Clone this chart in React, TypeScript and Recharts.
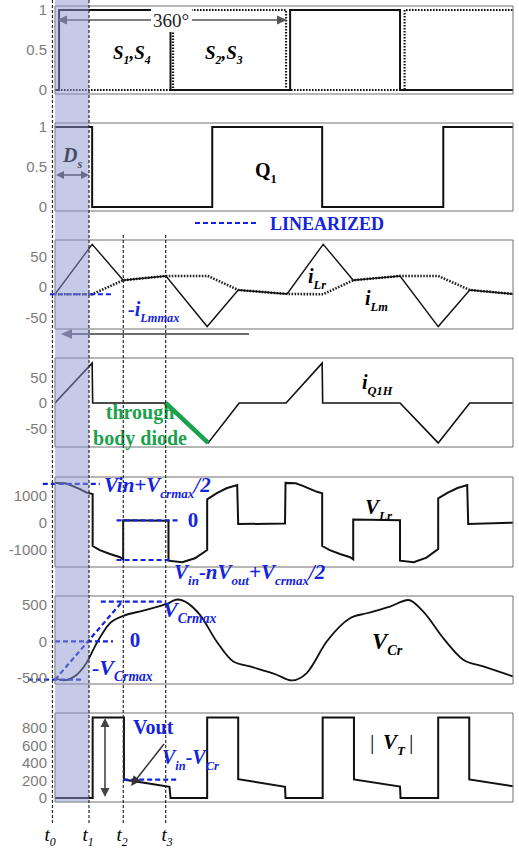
import React from 'react';
import { LineChart, Line, XAxis, YAxis, ReferenceLine, ReferenceArea } from 'recharts';

// ---------- data (x in time units 0..9) ----------
const X_TICKS = [0, 1, 2, 3, 4, 5, 6, 7, 8, 9];
const X_DOMAIN: [number, number] = [0, 9];
const T0 = -0.05, T1 = 0.668, T2 = 1.342, T3 = 2.175;

const s14: [number, number][] = [[0, 0], [0.08, 0], [0.08, 1], [2.27, 1], [2.27, 0], [4.62, 0], [4.62, 1], [6.78, 1], [6.78, 0], [9, 0]];
const s23: [number, number][] = [[0, 0], [2.32, 0], [2.32, 1], [4.54, 1], [4.54, 0], [6.87, 0], [6.87, 1], [9, 1]];
const q1: [number, number][] = [[0, 1], [0.73, 1], [0.73, 0], [3.09, 0], [3.09, 1], [5.25, 1], [5.25, 0], [7.63, 0], [7.63, 1], [9, 1]];
const iLr: [number, number][] = [[0, -12], [0.73, 70], [1.34, 11], [2.18, 18], [2.99, -65], [3.6, -5], [4.56, -11.5], [5.27, 70], [5.86, 11], [6.78, 18], [7.53, -65], [8.15, -5], [9, -11.5]];
const iLm: [number, number][] = [[0, -12], [0.73, -12], [1.34, 11], [2.18, 18], [3.0, 18], [3.6, -5], [4.56, -11.5], [5.27, -12], [5.86, 11], [6.78, 18], [7.53, 18], [8.15, -5], [9, -11.5]];
const iQ1H: [number, number][] = [[0, 0], [0.73, 78], [0.74, 0], [2.175, 0], [3.01, -78], [3.62, 0], [4.54, 0], [5.25, 78], [5.26, 0], [6.78, 0], [7.53, -78], [8.15, 0], [9, 0]];
const diodeSeg: [number, number][] = [[2.175, 0], [3.01, -78]];
const vLr: [number, number][] = [
  [0, 1480], [0.2, 1465], [0.34, 1370], [0.49, 1250], [0.62, 1120], [0.74, 1070], [0.74, -850], [0.88, -1000], [1.08, -1145], [1.28, -1265], [1.34, -1340],
  [1.34, 100], [2.23, 80], [2.23, -1390], [2.5, -1450], [2.75, -1300], [2.99, -1000], [2.99, 870], [3.18, 1100], [3.37, 1280], [3.58, 1400], [3.6, -40], [4.52, -20],
  [4.53, 1480], [4.73, 1465], [4.87, 1370], [5.02, 1250], [5.15, 1150], [5.25, 1100], [5.25, -850], [5.4, -1000], [5.6, -1145], [5.8, -1265], [5.86, -1340],
  [5.86, 130], [6.78, 100], [6.78, -1390], [7.05, -1450], [7.3, -1280], [7.53, -960], [7.53, 910], [7.72, 1120], [7.91, 1290], [8.1, 1400], [8.12, -40], [9, 10],
];
const vCr: [number, number][] = [
  [0, -504], [0.163, -537], [0.426, -459], [0.623, -290], [0.819, -25], [1.081, 249], [1.342, 349], [1.735, 422], [2.195, 514], [2.407, 575],
  [2.849, 363], [3.177, -3], [3.504, -277], [3.832, -345], [4.356, -459], [4.651, -537], [4.946, -436], [5.339, -3], [5.797, 318], [6.125, 386],
  [6.583, 477], [6.942, 568], [7.237, 408], [7.63, 44], [8.023, -253], [8.416, -345], [9, -482],
];
const vT: [number, number][] = [
  [0, 0], [0.74, 0], [0.74, 920], [1.355, 920], [1.355, 210], [2.25, 128], [2.27, 0], [2.99, 0], [2.99, 920], [3.6, 920], [3.6, 215], [4.52, 128], [4.53, 0],
  [5.26, 0], [5.26, 920], [5.875, 920], [5.875, 212], [6.78, 130], [6.79, 0], [7.53, 0], [7.53, 920], [8.14, 920], [8.14, 212], [9, 133],
];

const xy = (a: [number, number][]) => a.map(([x, y]) => ({ x, y }));

// ---------- layout / style ----------
const W = 519, H = 848, PL = 55, PR = 513, M = 14;
const FRAME = '#707070';
const BLUE = '#1424dc';
const GREEN = '#1aa24c';
const SERIF = '"Liberation Serif", "Times New Roman", serif';
const SANS = '"Liberation Sans", Arial, sans-serif';

type PanelProps = { top: number; bottom: number; domain: [number, number]; ticks: number[]; children?: React.ReactNode };

function Panel({ top, bottom, domain, ticks, children }: PanelProps) {
  return (
    <div style={{ position: 'absolute', left: 0, top: top - M }}>
      <LineChart width={W} height={bottom - top + 2 * M} margin={{ top: M, bottom: M, left: 0, right: W - PR }}>
        <XAxis type="number" dataKey="x" domain={X_DOMAIN} ticks={X_TICKS} interval={0} allowDataOverflow mirror tick={false} tickSize={4}
          axisLine={{ stroke: FRAME }} tickLine={{ stroke: FRAME }} />
        <XAxis xAxisId="t" orientation="top" type="number" dataKey="x" domain={X_DOMAIN} ticks={X_TICKS} interval={0} allowDataOverflow mirror tick={false} tickSize={4}
          axisLine={{ stroke: FRAME }} tickLine={{ stroke: FRAME }} />
        <YAxis type="number" domain={domain} ticks={ticks} interval={0} allowDataOverflow width={PL} tickLine={false} tickMargin={2}
          axisLine={{ stroke: FRAME }} tick={{ fill: '#7c7c7c', fontSize: 15, fontFamily: SANS }} />
        <YAxis yAxisId="lm" type="number" domain={domain} ticks={ticks} interval={0} allowDataOverflow mirror tick={false} tickSize={4}
          axisLine={false} tickLine={{ stroke: FRAME }} />
        <YAxis yAxisId="r" orientation="right" type="number" domain={domain} ticks={ticks} interval={0} allowDataOverflow mirror tick={false} tickSize={4}
          axisLine={{ stroke: FRAME }} tickLine={{ stroke: FRAME }} />
        {children}
      </LineChart>
    </div>
  );
}

type Part = [string, 'n' | 's'];
function Rich({ x, y, parts, size, fill = '#000', bold = true, italic = true, anchor = 'start', family = SERIF }:
  { x: number; y: number; parts: Part[]; size: number; fill?: string; bold?: boolean; italic?: boolean; anchor?: string; family?: string }) {
  let prev = 'n';
  const els = parts.map(([t, k], i) => {
    let dy = 0;
    if (k === 's' && prev === 'n') dy = size * 0.28;
    if (k === 'n' && prev === 's') dy = -size * 0.28;
    prev = k;
    return <tspan key={i} dy={dy} fontSize={k === 's' ? size * 0.62 : size}>{t}</tspan>;
  });
  return (
    <text x={x} y={y} fill={fill} fontFamily={family} fontWeight={bold ? 'bold' : 'normal'} fontStyle={italic ? 'italic' : 'normal'}
      textAnchor={anchor as any} fontSize={size}>{els}</text>
  );
}

function Arrow({ x1, y1, x2, y2, color, w = 1.5, head = 9, hw = 4, both = false }:
  { x1: number; y1: number; x2: number; y2: number; color: string; w?: number; head?: number; hw?: number; both?: boolean }) {
  const dx = x2 - x1, dy = y2 - y1, L = Math.hypot(dx, dy), ux = dx / L, uy = dy / L, px = -uy, py = ux;
  const tri = (ex: number, ey: number, sx: number, sy: number) => {
    const bx = ex - sx * head, by = ey - sy * head;
    return `${ex},${ey} ${bx + px * hw},${by + py * hw} ${bx - px * hw},${by - py * hw}`;
  };
  return (
    <g>
      <line x1={both ? x1 + ux * head * 0.8 : x1} y1={both ? y1 + uy * head * 0.8 : y1} x2={x2 - ux * head * 0.8} y2={y2 - uy * head * 0.8} stroke={color} strokeWidth={w} />
      <polygon points={tri(x2, y2, ux, uy)} fill={color} />
      {both && <polygon points={tri(x1, y1, -ux, -uy)} fill={color} />}
    </g>
  );
}

const seg = (x1: number, y1: number, x2: number, y2: number) => [{ x: x1, y: y1 }, { x: x2, y: y2 }];
const blueDash = { stroke: BLUE, strokeWidth: 2.2, strokeDasharray: '5 3', ifOverflow: 'visible' as const };
const tDash = { stroke: '#2a2a2a', strokeWidth: 1.2, strokeDasharray: '3 2', ifOverflow: 'visible' as const };

export default function App() {
  return (
    <div style={{ position: 'absolute', left: 0, top: 0, width: W, height: H, background: '#fff', overflow: 'hidden' }}>
      {/* Panel 1: S1,S4 / S2,S3 */}
      <Panel top={6} bottom={94} domain={[-0.05, 1.05]} ticks={[0, 0.5, 1]}>
        <Line data={xy(s23)} dataKey="y" type="linear" stroke="#111" strokeWidth={2.2} strokeDasharray="1.6 1.4" dot={false} isAnimationActive={false} />
        <Line data={xy(s14)} dataKey="y" type="linear" stroke="#111" strokeWidth={2} dot={false} isAnimationActive={false} />
      </Panel>
      {/* Panel 2: Q1 */}
      <Panel top={123} bottom={211} domain={[-0.05, 1.05]} ticks={[0, 0.5, 1]}>
        <Line data={xy(q1)} dataKey="y" type="linear" stroke="#111" strokeWidth={2} dot={false} isAnimationActive={false} />
      </Panel>
      {/* Panel 3: iLr, iLm */}
      <Panel top={240} bottom={329} domain={[-69, 77]} ticks={[-50, 0, 50]}>
        <Line data={xy(iLm)} dataKey="y" type="linear" stroke="#222" strokeWidth={2.6} strokeDasharray="1.6 1.4" dot={false} isAnimationActive={false} />
        <Line data={xy(iLr)} dataKey="y" type="linear" stroke="#111" strokeWidth={1.4} dot={false} isAnimationActive={false} />
        <ReferenceLine segment={seg(-0.1, -12, 1.14, -12)} {...blueDash} />
      </Panel>
      {/* Panel 4: iQ1H */}
      <Panel top={358} bottom={447} domain={[-86, 88]} ticks={[-50, 0, 50]}>
        <Line data={xy(iQ1H)} dataKey="y" type="linear" stroke="#111" strokeWidth={1.6} dot={false} isAnimationActive={false} />
        <Line data={xy(diodeSeg)} dataKey="y" type="linear" stroke={GREEN} strokeWidth={4.5} dot={false} isAnimationActive={false} />
      </Panel>
      {/* Panel 5: VLr */}
      <Panel top={477} bottom={567} domain={[-1624, 1697]} ticks={[-1000, 0, 1000]}>
        <Line data={xy(vLr)} dataKey="y" type="linear" stroke="#111" strokeWidth={2} dot={false} isAnimationActive={false} />
        <ReferenceLine segment={seg(-0.24, 1440, 0.88, 1440)} {...blueDash} />
        <ReferenceLine segment={seg(1.21, 100, 2.45, 100)} {...blueDash} />
        <ReferenceLine segment={seg(1.21, -1365, 2.27, -1365)} {...blueDash} />
      </Panel>
      {/* Panel 6: VCr */}
      <Panel top={596} bottom={684} domain={[-586, 623]} ticks={[-500, 0, 500]}>
        <Line data={xy(vCr)} dataKey="y" type="monotone" stroke="#111" strokeWidth={1.8} dot={false} isAnimationActive={false} />
        <ReferenceLine segment={seg(-0.53, -527, 0.55, -527)} {...blueDash} />
        <ReferenceLine segment={seg(0, 0, 1.14, 0)} {...blueDash} />
        <ReferenceLine segment={seg(0, -527, 1.32, 545)} {...blueDash} />
        <ReferenceLine segment={seg(0.9, 545, 2.18, 545)} {...blueDash} />
      </Panel>
      {/* Panel 7: |VT| */}
      <Panel top={713} bottom={802} domain={[-46, 971]} ticks={[0, 200, 400, 600, 800]}>
        <Line data={xy(vT)} dataKey="y" type="linear" stroke="#111" strokeWidth={2} dot={false} isAnimationActive={false} />
        <ReferenceLine segment={seg(1.34, 210, 2.43, 210)} {...blueDash} />
      </Panel>

      {/* overlay: shading, time markers, annotations */}
      <div style={{ position: 'absolute', left: 0, top: 0 }}>
        <LineChart width={W} height={H} margin={{ top: 0, bottom: 0, left: PL, right: W - PR }}>
          <XAxis type="number" dataKey="x" domain={X_DOMAIN} hide allowDataOverflow />
          <YAxis type="number" domain={[0, H]} reversed hide allowDataOverflow />
          <ReferenceArea x1={0} x2={T1} y1={0} y2={802} fill="#8c96cd" fillOpacity={0.5} stroke="none" ifOverflow="visible" />
          <ReferenceLine segment={seg(T0, 0, T0, 823)} {...tDash} />
          <ReferenceLine segment={seg(T1, 0, T1, 823)} {...tDash} />
          <ReferenceLine segment={seg(T2, 235, T2, 823)} {...tDash} />
          <ReferenceLine segment={seg(T3, 235, T3, 823)} {...tDash} />

          {/* panel 1 */}
          <Arrow x1={57} y1={20} x2={287} y2={20} color="#555" both w={1.5} head={10} hw={4.5} />
          <rect x={151} y={8} width={41} height={24} fill="#fff" />
          <text x={171} y={27} textAnchor="middle" fontFamily={SERIF} fontSize={19} fill="#222">360°</text>
          <Rich x={113} y={59} size={19} parts={[['S', 'n'], ['1', 's'], [',', 'n'], ['S', 'n'], ['4', 's']]} />
          <Rich x={205} y={59} size={19} parts={[['S', 'n'], ['2', 's'], [',', 'n'], ['S', 'n'], ['3', 's']]} />

          {/* panel 2 */}
          <Rich x={63} y={162} size={20} parts={[['D', 'n'], ['s', 's']]} />
          <Arrow x1={56} y1={175} x2={89} y2={175} color="#444" both w={1.6} head={8} hw={4} />
          <Rich x={255} y={177} size={20} italic={false} parts={[['Q', 'n'], ['1', 's']]} />
          <line x1={195} y1={223} x2={256} y2={223} stroke={BLUE} strokeWidth={2.2} strokeDasharray="5 3" />
          <text x={270} y={230} fontFamily={SERIF} fontWeight="bold" fontSize={18} fill={BLUE}>LINEARIZED</text>

          {/* panel 3 */}
          <Rich x={128} y={316} size={20} fill={BLUE} parts={[['-i', 'n'], ['Lmmax', 's']]} />
          <Rich x={308} y={283} size={20} parts={[['i', 'n'], ['Lr', 's']]} />
          <Rich x={365} y={305} size={20} parts={[['i', 'n'], ['Lm', 's']]} />
          <Arrow x1={249} y1={334} x2={61} y2={334} color="#6b6b78" w={2} head={11} hw={5} />

          {/* panel 4 */}
          <Rich x={362} y={389} size={20} parts={[['i', 'n'], ['Q1H', 's']]} />
          <text x={140} y={419} textAnchor="middle" fontFamily={SERIF} fontWeight="bold" fontSize={20} fill={GREEN}>through</text>
          <text x={140} y={445} textAnchor="middle" fontFamily={SERIF} fontWeight="bold" fontSize={20} fill={GREEN}>body diode</text>

          {/* panel 5 */}
          <Rich x={104} y={492} size={21} fill={BLUE} parts={[['Vin+V', 'n'], ['crmax', 's'], ['/2', 'n']]} />
          <text x={193} y={527} textAnchor="middle" fontFamily={SERIF} fontWeight="bold" fontSize={21} fill={BLUE}>0</text>
          <Rich x={174} y={579} size={21} fill={BLUE} parts={[['V', 'n'], ['in', 's'], ['-nV', 'n'], ['out', 's'], ['+V', 'n'], ['crmax', 's'], ['/2', 'n']]} />
          <Rich x={365} y={514} size={21} parts={[['V', 'n'], ['Lr', 's']]} />

          {/* panel 6 */}
          <Rich x={163} y={617} size={22} fill={BLUE} parts={[['V', 'n'], ['Crmax', 's']]} />
          <text x={135} y={647} textAnchor="middle" fontFamily={SERIF} fontWeight="bold" fontSize={21} fill={BLUE}>0</text>
          <Rich x={92} y={675} size={22} fill={BLUE} parts={[['-V', 'n'], ['Crmax', 's']]} />
          <Rich x={372} y={649} size={23} parts={[['V', 'n'], ['Cr', 's']]} />

          {/* panel 7 */}
          <Arrow x1={105} y1={718} x2={105} y2={797} color="#444" both w={1.6} head={9} hw={4.5} />
          <text x={133} y={734} fontFamily={SERIF} fontWeight="bold" fontSize={20} fill={BLUE}>Vout</text>
          <Rich x={162} y={764} size={20} fill={BLUE} parts={[['V', 'n'], ['in', 's'], ['-V', 'n'], ['Cr', 's']]} />
          <Arrow x1={164} y1={744} x2={131} y2={786} color="#333" w={1.5} head={10} hw={4.5} />
          <text x={370} y={749} fontFamily={SERIF} fontSize={22} fill="#111">|</text>
          <Rich x={383} y={749} size={21} parts={[['V', 'n'], ['T', 's']]} />
          <text x={409} y={749} fontFamily={SERIF} fontSize={22} fill="#111">|</text>

          {/* time labels */}
          <Rich x={50} y={841} size={19} bold={false} anchor="middle" parts={[['t', 'n'], ['0', 's']]} />
          <Rich x={88} y={841} size={19} bold={false} anchor="middle" parts={[['t', 'n'], ['1', 's']]} />
          <Rich x={122} y={841} size={19} bold={false} anchor="middle" parts={[['t', 'n'], ['2', 's']]} />
          <Rich x={167} y={841} size={19} bold={false} anchor="middle" parts={[['t', 'n'], ['3', 's']]} />
        </LineChart>
      </div>
    </div>
  );
}
